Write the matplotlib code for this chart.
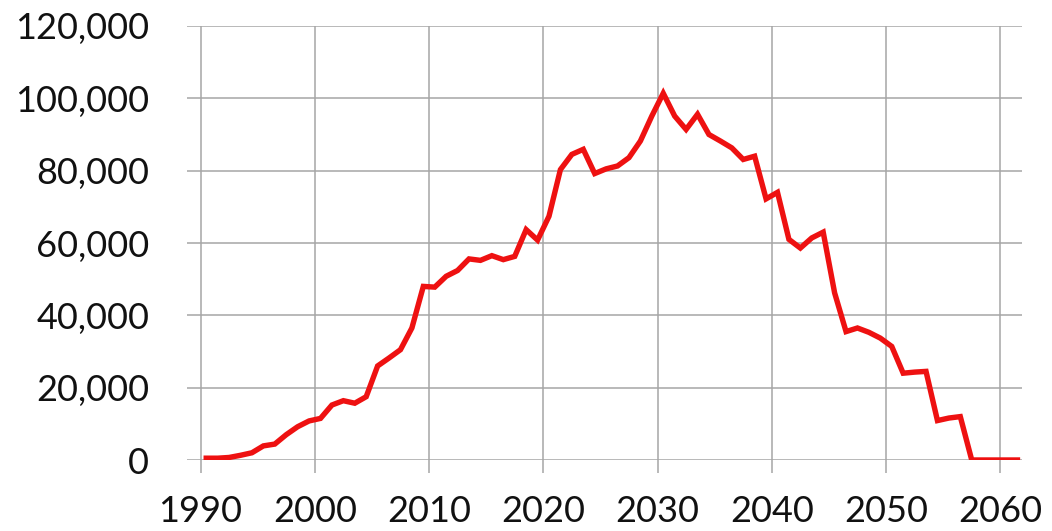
import matplotlib
matplotlib.use("Agg")
import matplotlib.pyplot as plt
from matplotlib.ticker import FuncFormatter

# yearly values
years = list(range(1990, 2062))
values = [
    500, 500, 700, 1300, 2000, 3900, 4400, 7000, 9200, 10800,
    11500, 15200, 16400, 15700, 17500, 26000, 28200, 30500, 36500, 48000,
    47800, 50800, 52400, 55600, 55200, 56500, 55400, 56300, 63700, 60800,
    67400, 80300, 84500, 85900, 79200, 80500, 81300, 83600, 88200, 95100,
    101400, 95100, 91400, 95600, 90000, 88200, 86300, 83100, 84000, 72200,
    74000, 61000, 58600, 61400, 63000, 46200, 35500, 36500, 35300, 33700,
    31400, 24000, 24300, 24500, 10900, 11600, 12000, 0, 0, 0,
    0, 0,
]
x_ticks = list(range(1990, 2061, 10))
y_ticks = list(range(0, 120001, 20000))

grid_color = "#a6a6a6"
plt.rcParams["font.family"] = ["Lato", "DejaVu Sans"]

W, H, DPI = 1052, 531, 100
fig = plt.figure(figsize=(W / DPI, H / DPI), dpi=DPI)
left, right, top, bottom = 186.7, 1022, 26, 460
ax = fig.add_axes([left / W, 1 - bottom / H, (right - left) / W, (bottom - top) / H])

ax.plot([y + 0.5 for y in years], values, color="#ee1111", lw=3.9,
        solid_joinstyle="miter", zorder=3)

ax.set_xlim(1988.79, 2061.9)
ax.set_ylim(0, 120000)
ax.set_xticks(x_ticks)
ax.set_yticks(y_ticks)
ax.yaxis.set_major_formatter(FuncFormatter(lambda v, p: f"{int(v):,}"))

ax.grid(True, color=grid_color, lw=1.1)
for s in ax.spines.values():
    s.set_visible(False)

ax.tick_params(axis="x", direction="out", length=9.4, width=1.1, color=grid_color,
               pad=16, labelsize=26, labelcolor="#111111")
ax.tick_params(axis="y", length=0, pad=27, labelsize=26, labelcolor="#111111")

fig.savefig("out.png", dpi=DPI)
